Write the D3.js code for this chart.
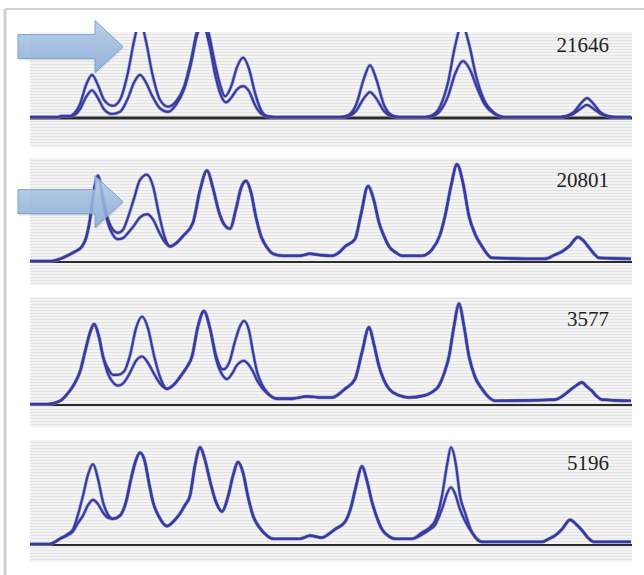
<!DOCTYPE html>
<html>
<head>
<meta charset="utf-8">
<script src="https://cdn.jsdelivr.net/npm/d3@7"></script>
<style>
  body { margin: 0; background: #fff; }
  svg { display: block; }
</style>
</head>
<body>
<div id="chart"></div>
<script>
// sample labels, one per panel
var sampleLabels = ["21646", "20801", "3577", "5196"];

// traces: [scan, intensity], intensity 100 = top of panel
var p1A = [[0,0],[28,0],[32,1],[40,1],[44,4],[50,15],[56,37],[62,49],[68,37],[74,20],[83,13],[90,20],[98,52],[104,88],[110,112],[116,88],[122,52],[130,20],[138,12],[146,18],[154,35],[161,66],[167,100],[173,118],[179,96],[185,62],[190,38],[195,24],[201,35],[207,58],[213,69],[219,56],[225,28],[231,8],[237,1],[245,0],[310,0],[318,2],[326,14],[334,45],[340,60],[346,45],[354,14],[362,2],[370,0],[395,0],[402,2],[410,12],[418,40],[425,82],[432,108],[439,85],[446,48],[454,20],[464,5],[474,0],[530,0],[536,1],[544,6],[551,16],[557,22],[563,16],[570,6],[578,1],[586,0],[601,0]];
var p1B = [[0,0],[28,0],[32,1],[40,1],[44,2],[50,9],[56,23],[62,31],[68,22],[74,9],[82,3.5],[90,6],[98,22],[104,40],[110,49],[116,40],[122,25],[130,10],[138,6],[146,14],[154,32],[161,62],[167,95],[173,108],[179,86],[185,50],[190,28],[196,17],[201,22],[207,32],[213,36],[219,30],[225,14],[231,4],[237,1],[245,0],[310,0],[318,1],[326,7],[334,22],[340,29],[346,22],[354,7],[362,1],[370,0],[395,0],[402,1],[410,7],[418,24],[425,50],[433,65],[440,55],[447,34],[455,14],[464,4],[474,0],[530,0],[536,1],[544,4],[551,10],[557,14],[563,10],[570,4],[578,1],[586,0],[601,0]];

var p2A = [[0,0],[22,0],[30,2],[37,5],[45,9],[52,14],[56,22],[60,40],[64,68],[68,82],[73,60],[78,40],[83,30],[88,27],[93,30],[98,42],[104,60],[110,78],[117,83],[123,72],[129,45],[135,22],[140,14],[146,17],[153,24],[163,37],[170,68],[177,87],[183,70],[189,47],[195,34],[200,31],[206,50],[211,70],[216,77],[221,66],[226,42],[231,24],[237,13],[243,7],[253,5],[270,5],[280,7],[288,6],[302,5],[310,9],[315,14],[325,21],[331,45],[338,72],[344,58],[349,37],[354,24],[359,14],[366,8],[372,5],[392,5],[402,11],[410,25],[415,43],[421,72],[427,93],[433,75],[439,43],[445,26],[452,14],[462,3],[515,2],[525,6],[532,9],[539,14],[548,23],[554,19],[559,13],[564,7],[569,3],[601,2]];
var p2B = [[0,0],[22,0],[30,2],[37,5],[45,9],[52,14],[56,22],[60,40],[64,68],[68,82],[73,58],[78,36],[83,25],[88,21],[93,22],[98,27],[104,34],[110,42],[117,45],[123,40],[129,28],[135,18],[140,14],[146,17],[153,24],[163,37],[170,68],[177,87],[183,70],[189,47],[195,34],[200,31],[206,50],[211,70],[216,77],[221,66],[226,42],[231,24],[237,13],[243,7],[253,5],[270,5],[280,7],[288,6],[302,5],[310,9],[315,14],[325,21],[331,45],[338,72],[344,58],[349,37],[354,24],[359,14],[366,8],[372,5],[392,5],[402,11],[410,25],[415,43],[421,72],[427,93],[433,75],[439,43],[445,26],[452,14],[462,3],[515,2],[525,6],[532,9],[539,14],[548,23],[554,19],[559,13],[564,7],[569,3],[601,2]];

var p3A = [[0,0],[18,0],[25,1],[32,4],[37,9],[44,18],[50,30],[56,52],[60,66],[64,74],[69,62],[73,44],[78,33],[83,27],[88,27],[94,30],[100,45],[106,70],[112,81],[118,70],[124,45],[130,25],[137,14],[144,18],[150,25],[156,33],[162,44],[168,72],[174,86],[180,70],[186,45],[193,32],[199,38],[205,58],[210,72],[214,77],[219,68],[223,48],[227,30],[232,18],[237,11],[247,5],[262,5],[277,7],[292,6],[302,6],[310,10],[315,14],[325,23],[332,48],[339,71],[344,55],[349,35],[354,22],[359,14],[369,8],[379,6],[395,8],[402,11],[409,17],[414,28],[419,44],[424,72],[429,93],[434,72],[439,44],[445,25],[452,14],[458,7],[465,3],[525,4],[532,7],[539,12],[546,17],[552,20],[557,16],[562,12],[567,7],[572,4],[601,3]];
var p3B = [[0,0],[18,0],[25,1],[32,4],[37,9],[44,18],[50,30],[56,52],[60,66],[64,74],[69,62],[73,44],[78,28],[83,20],[88,17],[94,20],[100,29],[106,40],[112,44],[118,38],[124,28],[130,19],[137,14],[144,18],[150,25],[156,33],[162,44],[168,72],[174,86],[180,70],[186,42],[193,26],[197,23],[202,28],[207,36],[214,40],[219,36],[223,30],[227,22],[232,15],[237,10],[247,5],[262,5],[277,7],[292,6],[302,6],[310,10],[315,14],[325,23],[332,48],[339,71],[344,55],[349,35],[354,22],[359,14],[369,8],[379,6],[395,8],[402,11],[409,17],[414,28],[419,44],[424,72],[429,93],[434,72],[439,44],[445,25],[452,14],[458,7],[465,3],[525,4],[532,7],[539,12],[546,17],[552,20],[557,16],[562,12],[567,7],[572,4],[601,3]];

var p4A = [[0,0],[20,0],[25,2],[30,5],[37,9],[43,14],[48,28],[53,46],[58,66],[63,76],[68,62],[73,40],[78,28],[83,24],[90,27],[96,40],[101,62],[106,80],[110,87],[115,78],[119,58],[123,40],[129,26],[137,17],[144,22],[150,29],[155,37],[160,46],[165,75],[170,92],[175,80],[180,60],[186,40],[192,31],[198,45],[203,65],[208,78],[213,68],[218,45],[223,27],[230,15],[237,8],[243,5],[270,5],[280,8],[292,6],[298,9],[305,14],[315,21],[321,35],[326,55],[332,74],[337,60],[342,40],[347,25],[352,14],[358,8],[365,5],[382,5],[392,11],[400,16],[405,22],[409,33],[412,46],[417,75],[421,92],[426,75],[430,46],[435,30],[442,11],[452,2],[512,2],[519,5],[525,8],[532,14],[540,23],[546,19],[552,13],[558,6],[564,2],[601,2]];
var p4B = [[0,0],[20,0],[25,2],[30,5],[37,8],[43,12],[48,20],[53,27],[58,37],[63,42],[68,38],[73,30],[78,25],[83,24],[90,27],[96,40],[101,62],[106,80],[110,87],[115,78],[119,58],[123,40],[129,26],[137,17],[144,22],[150,29],[155,37],[160,46],[165,75],[170,92],[175,80],[180,60],[186,40],[192,31],[198,45],[203,65],[208,78],[213,68],[218,45],[223,27],[230,15],[237,8],[243,5],[270,5],[280,8],[292,6],[298,9],[305,14],[315,21],[321,35],[326,55],[332,74],[337,60],[342,40],[347,25],[352,14],[358,8],[365,5],[382,5],[392,9],[400,14],[405,18],[409,26],[413,36],[417,48],[421,54],[425,48],[430,33],[435,22],[442,11],[452,2],[512,2],[519,5],[525,8],[532,14],[540,23],[546,19],[552,13],[558,6],[564,2],[601,2]];

var traces = [[p1A, p1B], [p2A, p2B], [p3A, p3B], [p4A, p4B]];

// arrows point at scan 93 in the first two panels (intensity of the tip)
var arrowPanels = [0, 1];
var arrowTipIntensity = [83, 58];

//---------------------------------------------------------------------------//
var svgWidth = 644;
var svgHeight = 575;

// panel boxes: top/bottom of the striped area and the baseline
var panels = [
    {top: 32, bottom: 147, base: 118, baseWidth: 3},
    {top: 158, bottom: 285, base: 262, baseWidth: 1.8},
    {top: 297, bottom: 427, base: 405, baseWidth: 2.2},
    {top: 440, bottom: 562, base: 545, baseWidth: 2}
];
var labelY = [52, 187, 326, 470];

var xScale = d3.scaleLinear().domain([0, 601]).range([30, 631]);

var svg = d3.select("#chart").append("svg")
    .attr("width", svgWidth)
    .attr("height", svgHeight);

var defs = svg.append("defs");

// striped background
var pat = defs.append("pattern")
    .attr("id", "stripes")
    .attr("patternUnits", "userSpaceOnUse")
    .attr("width", 6).attr("height", 3);
pat.append("rect").attr("width", 6).attr("height", 3).attr("fill", "#f4f4f4");
pat.append("rect").attr("y", 1).attr("width", 6).attr("height", 1).attr("fill", "#e3e3e3");

var grad = defs.append("linearGradient")
    .attr("id", "arrowFill")
    .attr("x1", 0).attr("y1", 0).attr("x2", 0).attr("y2", 1);
grad.append("stop").attr("offset", "0%").attr("stop-color", "#b3cdea");
grad.append("stop").attr("offset", "100%").attr("stop-color", "#86abd8");

// outer frame
svg.append("line")
    .attr("x1", 5).attr("x2", 644).attr("y1", 9).attr("y2", 9)
    .attr("stroke", "#cfcfcf").attr("stroke-width", 2);
svg.append("line")
    .attr("x1", 5).attr("x2", 5).attr("y1", 9).attr("y2", 575)
    .attr("stroke", "#cfcfcf").attr("stroke-width", 3);

panels.forEach(function(p, i) {
    var g = svg.append("g");

    defs.append("clipPath").attr("id", "clip" + i)
        .append("rect")
        .attr("x", 30).attr("y", p.top)
        .attr("width", 602).attr("height", p.bottom - p.top);

    g.append("rect")
        .attr("x", 30).attr("y", p.top)
        .attr("width", 602).attr("height", p.bottom - p.top)
        .attr("fill", "url(#stripes)");

    var yScale = d3.scaleLinear().domain([0, 100]).range([p.base, p.top]);

    g.append("line")
        .attr("x1", 30).attr("x2", 632)
        .attr("y1", p.base).attr("y2", p.base)
        .attr("stroke", "#2b2b2b").attr("stroke-width", p.baseWidth);

    var line = d3.line()
        .x(d => xScale(d[0]))
        .y(d => yScale(d[1]) - 1)
        .curve(d3.curveMonotoneX);

    var tg = g.append("g").attr("clip-path", "url(#clip" + i + ")");
    // soft halo under each trace
    tg.selectAll("path.halo")
        .data(traces[i])
        .enter()
        .append("path")
        .attr("class", "halo")
        .attr("d", line)
        .attr("fill", "none")
        .attr("stroke", "#7f83cf")
        .attr("stroke-width", 3.6)
        .attr("stroke-linejoin", "round")
        .attr("opacity", 0.55);
    tg.selectAll("path.trace")
        .data(traces[i])
        .enter()
        .append("path")
        .attr("class", "trace")
        .attr("d", line)
        .attr("fill", "none")
        .attr("stroke", "#383b9e")
        .attr("stroke-width", 2.2)
        .attr("stroke-linejoin", "round");

    g.append("text")
        .attr("x", 609).attr("y", labelY[i])
        .attr("text-anchor", "end")
        .style("font-family", "'Liberation Serif', 'DejaVu Serif', serif")
        .style("font-size", "21px")
        .attr("fill", "#222")
        .text(sampleLabels[i]);

    // arrow annotation
    var ai = arrowPanels.indexOf(i);
    if (ai >= 0) {
        var tx = xScale(93), ty = yScale(arrowTipIntensity[ai]);
        var headLen = 28, bodyLen = 77, bodyHalf = 12, headHalf = 26;
        var pts = [
            [tx, ty],
            [tx - headLen, ty - headHalf],
            [tx - headLen, ty - bodyHalf],
            [tx - headLen - bodyLen, ty - bodyHalf],
            [tx - headLen - bodyLen, ty + bodyHalf],
            [tx - headLen, ty + bodyHalf],
            [tx - headLen, ty + headHalf]
        ];
        svg.append("path")
            .attr("d", "M" + pts.map(q => (q[0] + 1) + "," + (q[1] + 2)).join("L") + "Z")
            .attr("fill", "#000").attr("opacity", 0.08);
        svg.append("path")
            .attr("d", "M" + pts.join("L") + "Z")
            .attr("fill", "url(#arrowFill)")
            .attr("fill-opacity", 0.85)
            .attr("stroke", "#7b9fcd")
            .attr("stroke-width", 1);
    }
});
</script>
</body>
</html>
